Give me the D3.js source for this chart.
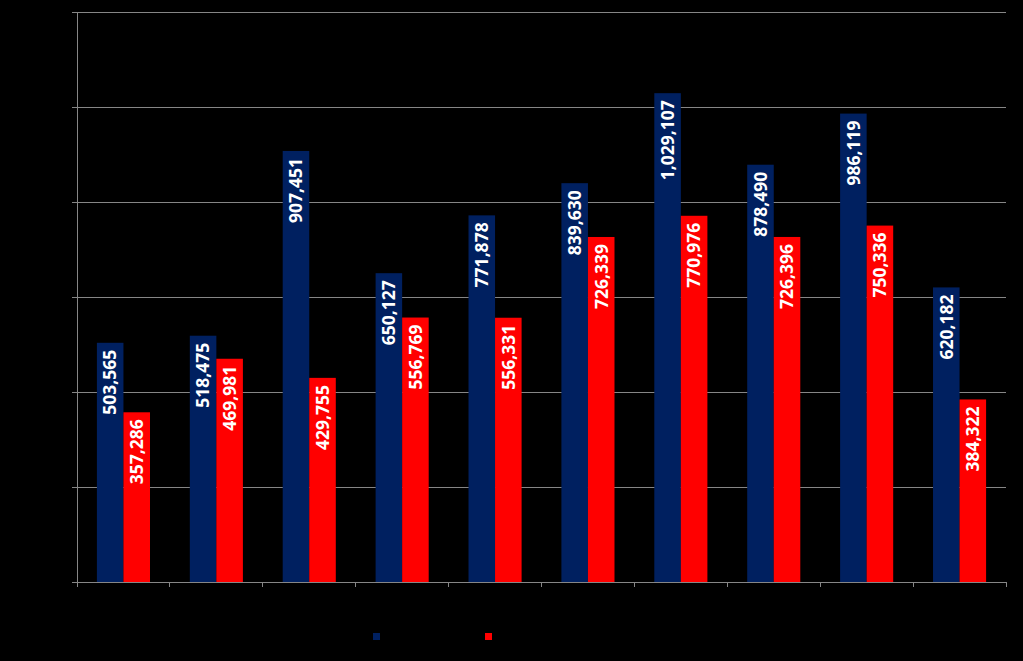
<!DOCTYPE html>
<html><head><meta charset="utf-8">
<script src="https://cdn.jsdelivr.net/npm/d3@7"></script>
<style>html,body{margin:0;padding:0;background:#000;}svg{display:block;}</style>
</head><body>
<svg id="c" width="1023" height="661"></svg>
<script>
const categories = ["1","2","3","4","5","6","7","8","9","10"];
const seriesA = [503565, 518475, 907451, 650127, 771878, 839630, 1029107, 878490, 986119, 620182];
const seriesB = [357286, 469981, 429755, 556769, 556331, 726339, 770976, 726396, 750336, 384322];
const yTicks = [0, 200000, 400000, 600000, 800000, 1000000, 1200000];
const colors = ["#002060", "#FF0000"];

const svg = d3.select("#c");
svg.append("rect").attr("width",1023).attr("height",661).attr("fill","#000");
const m = {l:77, r:1006, t:12, b:582};
const x = d3.scaleBand().domain(categories).range([m.l, m.r]).paddingInner(0).paddingOuter(0);
const y = d3.scaleLinear().domain([0, 1200000]).range([m.b, m.t]);
const inner = d3.scaleBand().domain([0,1]).range([0, x.bandwidth()]).paddingInner(0).paddingOuter(0.75);
const grid = "#868686";

// gridlines
svg.append("g").selectAll("line").data(yTicks.slice(1)).join("line")
  .attr("x1", m.l - 5).attr("x2", m.r).attr("y1", d=>y(d)).attr("y2", d=>y(d))
  .attr("stroke", grid).attr("stroke-width",1).attr("shape-rendering","crispEdges");

// y axis
const ya = svg.append("g").attr("transform",`translate(${m.l},0)`)
  .call(d3.axisLeft(y).tickValues(yTicks).tickSize(5).tickFormat(""));
ya.selectAll("line,path").attr("stroke", grid).attr("shape-rendering","crispEdges");

const data = categories.map((c,i)=>({c, v:[seriesA[i], seriesB[i]]}));
const g = svg.append("g").selectAll("g").data(data).join("g")
  .attr("transform", d=>`translate(${x(d.c)},0)`);
g.selectAll("rect").data(d=>d.v.map((v,k)=>({v,k}))).join("rect")
  .attr("x", d=>inner(d.k)).attr("width", inner.bandwidth())
  .attr("y", d=>y(d.v)).attr("height", d=>m.b - y(d.v))
  .attr("fill", d=>colors[d.k]);
const fmt = d3.format(",");
g.selectAll("text").data(d=>d.v.map((v,k)=>({v,k}))).join("text")
  .attr("transform", d=>`translate(${inner(d.k)+inner.bandwidth()/2},${y(d.v)+7}) rotate(-90)`)
  .attr("text-anchor","end").attr("dy","0.36em")
  .attr("fill","#fff").attr("font-family","'Open Sans', sans-serif").attr("font-weight","bold")
  .attr("font-size","17.5px").text(d=>fmt(d.v));

// x axis
const xa = svg.append("g").attr("transform",`translate(0,${m.b})`);
xa.append("line").attr("x1",m.l).attr("x2",m.r).attr("y1",0).attr("y2",0).attr("stroke",grid).attr("shape-rendering","crispEdges");
const edges = categories.map(c=>x(c)).concat([m.r]);
xa.selectAll("line.t").data(edges).join("line").attr("class","t")
  .attr("x1",d=>d).attr("x2",d=>d).attr("y1",0).attr("y2",5).attr("stroke",grid).attr("shape-rendering","crispEdges");

// legend markers
const lg = svg.append("g");
lg.selectAll("rect").data([0,1]).join("rect")
  .attr("x", d=>373 + d*112).attr("y",633).attr("width",7).attr("height",7)
  .attr("fill", d=>colors[d]);
</script>
</body></html>
